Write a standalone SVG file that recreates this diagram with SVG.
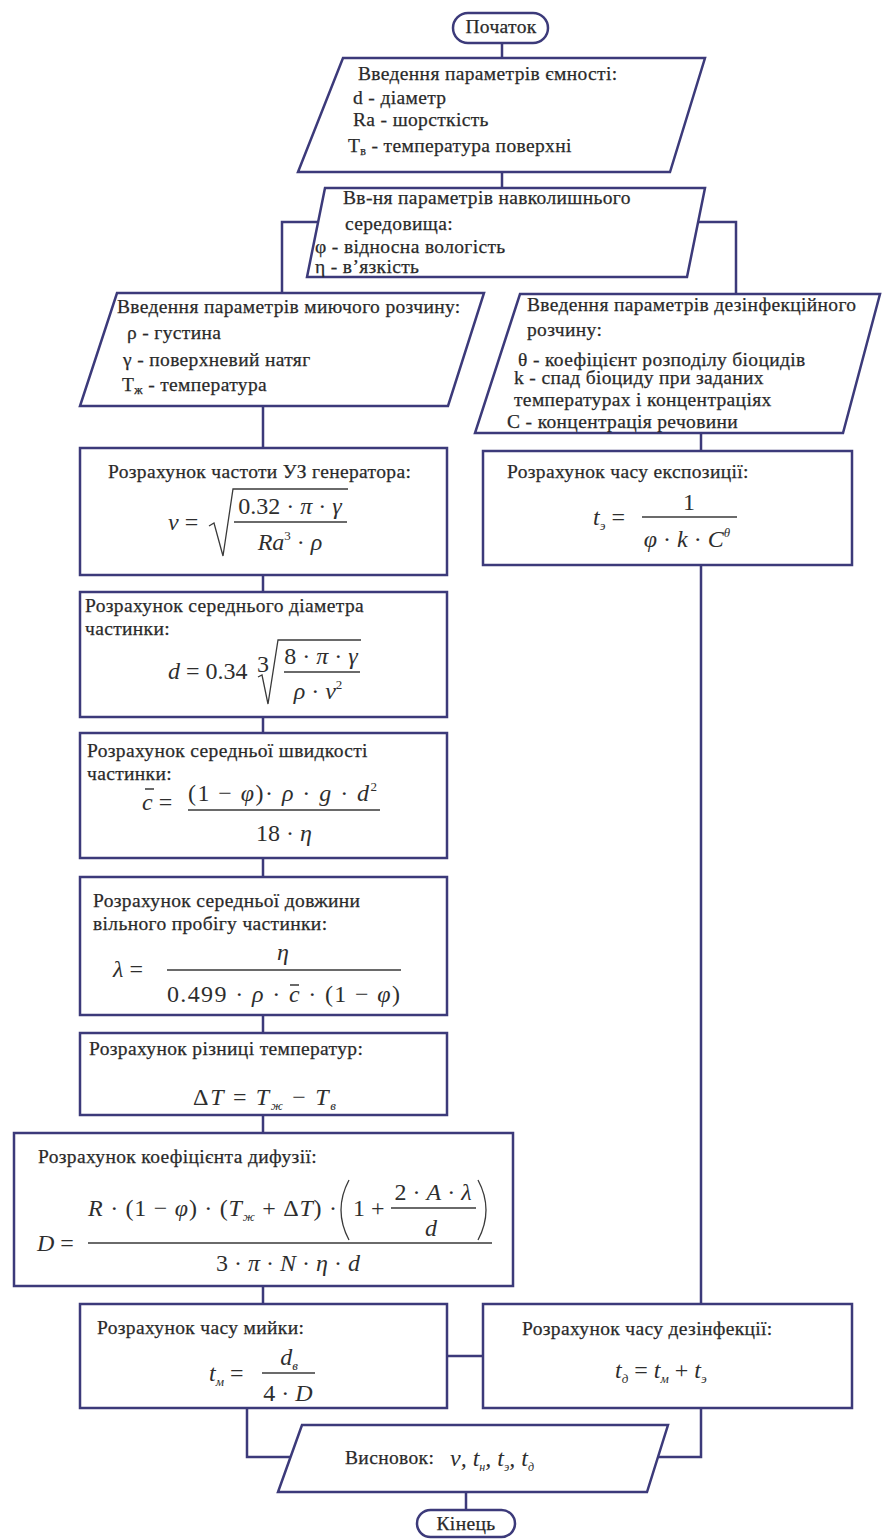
<svg xmlns="http://www.w3.org/2000/svg" width="883" height="1539" viewBox="0 0 883 1539">
<style>
.n{fill:#fff;stroke:#3c3a7a;stroke-width:2.5}
.c{fill:none;stroke:#3c3a7a;stroke-width:2.5}
.t{font-family:"Liberation Serif","Times New Roman",serif;font-size:19.5px;letter-spacing:0.35px;fill:#2a2a2a;stroke:#2a2a2a;stroke-width:0.25}
.m{font-family:"Liberation Serif","Times New Roman",serif;font-size:24px;fill:#2e2e2e}
.i{font-style:italic}
.f{fill:none;stroke:#3a3a3a;stroke-width:1.3}
</style>
<rect width="883" height="1539" fill="#fff"/>
<g id="connectors">
<path class="c" d="M502,43V58 M502,172V188 M318,222H282V293 M698,222H736V294 M263,406V448 M263,575V592 M263,717V733 M263,858V877 M263,1015V1033 M263,1115V1133 M263,1286V1304 M701,433V451 M701,565V1304 M447,1356H483 M247,1408V1457H290 M701,1408V1457H658 M466,1492V1510"/>
</g>
<g id="start">
<rect class="n" x="453" y="13" width="95" height="30" rx="15"/>
<text class="t" x="501" y="33" text-anchor="middle">Початок</text>
</g>
<g id="input-tank">
<polygon class="n" points="343,58 705,58 670,172 298,172"/>
<text class="t" x="358" y="80">Введення параметрів ємності:</text>
<text class="t" x="353" y="104">d - діаметр</text>
<text class="t" x="353" y="126">Ra - шорсткість</text>
<text class="t" x="348" y="152">T<tspan font-size="12" dy="3">в</tspan><tspan dy="-3"> - температура поверхні</tspan></text>
</g>
<g id="input-env">
<polygon class="n" points="325,188 705,188 687,277 307,277"/>
<text class="t" x="343" y="204">Вв-ня параметрів навколишнього</text>
<text class="t" x="345" y="230">середовища:</text>
<text class="t" x="315" y="253">φ - відносна вологість</text>
<text class="t" x="315" y="273">η - в’язкість</text>
</g>
<g id="input-wash">
<polygon class="n" points="117,293 484,293 448,406 80,406"/>
<text class="t" x="117" y="313">Введення параметрів миючого розчину:</text>
<text class="t" x="127" y="339">ρ - густина</text>
<text class="t" x="123" y="366">γ - поверхневий натяг</text>
<text class="t" x="122" y="391">T<tspan font-size="12" dy="3">ж</tspan><tspan dy="-3"> - температура</tspan></text>
</g>
<g id="input-disinf">
<polygon class="n" points="520,294 880,294 843,433 475,433"/>
<text class="t" x="527" y="311">Введення параметрів дезінфекційного</text>
<text class="t" x="527" y="336">розчину:</text>
<text class="t" x="518" y="366">θ - коефіцієнт розподілу біоцидів</text>
<text class="t" x="514" y="384">k - спад біоциду при заданих</text>
<text class="t" x="514" y="406">температурах і концентраціях</text>
<text class="t" x="507" y="428">C - концентрація речовини</text>
</g>
<g id="calc-freq">
<rect class="n" x="80" y="448" width="367" height="127"/>
<text class="t" x="108" y="478">Розрахунок частоти УЗ генератора:</text>
<text class="m" x="168" y="530"><tspan class="i">ν</tspan> =</text>
<path class="f" d="M209,526 L214,523 L223,556 L233,489 L348,489 M234,522 H347"/>
<text class="m" x="290" y="514" text-anchor="middle">0.32 · <tspan class="i">π</tspan> · <tspan class="i">γ</tspan></text>
<text class="m" x="290" y="550" text-anchor="middle"><tspan class="i">Ra</tspan><tspan font-size="13" dy="-10">3</tspan><tspan dy="10"> · </tspan><tspan class="i">ρ</tspan></text>
</g>
<g id="calc-diam">
<rect class="n" x="80" y="592" width="367" height="125"/>
<text class="t" x="85" y="612">Розрахунок середнього діаметра</text>
<text class="t" x="85" y="635">частинки:</text>
<text class="m" x="168" y="679"><tspan class="i">d</tspan> = 0.34</text>
<text class="m" x="257" y="672" font-size="12">3</text>
<path class="f" d="M258,677 L262,675 L268,704 L278,640 L361,640 M284,672 H360"/>
<text class="m" x="321" y="664" text-anchor="middle">8 · <tspan class="i">π</tspan> · <tspan class="i">γ</tspan></text>
<text class="m" x="318" y="699" text-anchor="middle"><tspan class="i">ρ</tspan> · <tspan class="i">ν</tspan><tspan font-size="13" dy="-10">2</tspan></text>
</g>
<g id="calc-speed">
<rect class="n" x="80" y="733" width="367" height="125"/>
<text class="t" x="87" y="757">Розрахунок середньої швидкості</text>
<text class="t" x="87" y="780">частинки:</text>
<text class="m" x="142" y="810"><tspan class="i">c</tspan> =</text>
<path class="f" d="M145,789 H154 M188,810 H380"/>
<text class="m" x="188" y="801" textLength="189">(1 − <tspan class="i">φ</tspan>)· <tspan class="i">ρ</tspan> · <tspan class="i">g</tspan> · <tspan class="i">d</tspan><tspan font-size="13" dy="-10">2</tspan></text>
<text class="m" x="284" y="841" text-anchor="middle">18 · <tspan class="i">η</tspan></text>
</g>
<g id="calc-path">
<rect class="n" x="80" y="877" width="367" height="138"/>
<text class="t" x="93" y="907">Розрахунок середньої довжини</text>
<text class="t" x="93" y="930">вільного пробігу частинки:</text>
<text class="m" x="113" y="977"><tspan class="i">λ</tspan> =</text>
<text class="m" x="283" y="960" text-anchor="middle"><tspan class="i">η</tspan></text>
<path class="f" d="M167,970 H401 M290,985 H299"/>
<text class="m" x="167" y="1002" textLength="233">0.499 · <tspan class="i">ρ</tspan> · <tspan class="i">c</tspan> · (1 − <tspan class="i">φ</tspan>)</text>
</g>
<g id="calc-dt">
<rect class="n" x="80" y="1033" width="367" height="82"/>
<text class="t" x="89" y="1055">Розрахунок різниці температур:</text>
<text class="m" x="193" y="1105" textLength="143">Δ<tspan class="i">T</tspan> = <tspan class="i">T</tspan><tspan class="i" font-size="13" dy="5">ж</tspan><tspan dy="-5"> − </tspan><tspan class="i">T</tspan><tspan class="i" font-size="13" dy="5">в</tspan></text>
</g>
<g id="calc-diff">
<rect class="n" x="14" y="1133" width="499" height="153"/>
<text class="t" x="38" y="1163">Розрахунок коефіцієнта дифузії:</text>
<text class="m" x="37" y="1251" font-size="25"><tspan class="i">D</tspan> =</text>
<text class="m" x="88" y="1216" textLength="249"><tspan class="i">R</tspan> · (1 − <tspan class="i">φ</tspan>) · (<tspan class="i">T</tspan><tspan class="i" font-size="13" dy="5">ж</tspan><tspan dy="-5"> + Δ</tspan><tspan class="i">T</tspan>) ·</text>
<path class="f" d="M349,1180 Q333,1210 349,1240 M478,1180 Q494,1210 478,1240 M391,1208 H476 M88,1243 H492" />
<text class="m" x="353" y="1216">1 +</text>
<text class="m" x="433" y="1200" text-anchor="middle">2 · <tspan class="i">A</tspan> · <tspan class="i">λ</tspan></text>
<text class="m" x="431" y="1236" text-anchor="middle"><tspan class="i">d</tspan></text>
<text class="m" x="288" y="1271" text-anchor="middle">3 · <tspan class="i">π</tspan> · <tspan class="i">N</tspan> · <tspan class="i">η</tspan> · <tspan class="i">d</tspan></text>
</g>
<g id="calc-wash">
<rect class="n" x="80" y="1304" width="367" height="104"/>
<text class="t" x="97" y="1334">Розрахунок часу мийки:</text>
<text class="m" x="209" y="1381"><tspan class="i">t</tspan><tspan class="i" font-size="13" dy="5">м</tspan><tspan dy="-5"> =</tspan></text>
<path class="f" d="M262,1373 H315"/>
<text class="m" x="289" y="1365" text-anchor="middle"><tspan class="i">d</tspan><tspan class="i" font-size="13" dy="5">в</tspan></text>
<text class="m" x="288" y="1401" text-anchor="middle">4 · <tspan class="i">D</tspan></text>
</g>
<g id="calc-exposure">
<rect class="n" x="483" y="451" width="369" height="114"/>
<text class="t" x="507" y="478">Розрахунок часу експозиції:</text>
<text class="m" x="593" y="525"><tspan class="i">t</tspan><tspan class="i" font-size="13" dy="5">э</tspan><tspan dy="-5"> =</tspan></text>
<path class="f" d="M642,517 H737"/>
<text class="m" x="689" y="510" text-anchor="middle">1</text>
<text class="m" x="687" y="547" text-anchor="middle"><tspan class="i">φ</tspan> · <tspan class="i">k</tspan> · <tspan class="i">C</tspan><tspan class="i" font-size="13" dy="-10">θ</tspan></text>
</g>
<g id="calc-disinf">
<rect class="n" x="483" y="1304" width="369" height="104"/>
<text class="t" x="522" y="1335">Розрахунок часу дезінфекції:</text>
<text class="m" x="615" y="1378"><tspan class="i">t</tspan><tspan class="i" font-size="13" dy="5">д</tspan><tspan dy="-5"> = </tspan><tspan class="i">t</tspan><tspan class="i" font-size="13" dy="5">м</tspan><tspan dy="-5"> + </tspan><tspan class="i">t</tspan><tspan class="i" font-size="13" dy="5">э</tspan></text>
</g>
<g id="output">
<polygon class="n" points="302,1425 668,1425 647,1492 278,1492"/>
<text class="t" x="345" y="1464">Висновок:</text>
<text class="m i" x="450" y="1466" font-size="22">ν, t<tspan font-size="12" dy="5">н</tspan><tspan dy="-5">, t</tspan><tspan font-size="12" dy="5">э</tspan><tspan dy="-5">, t</tspan><tspan font-size="12" dy="5">д</tspan></text>
</g>
<g id="end">
<rect class="n" x="417" y="1510" width="98" height="27" rx="13.5"/>
<text class="t" x="466" y="1530" text-anchor="middle">Кінець</text>
</g>
</svg>
